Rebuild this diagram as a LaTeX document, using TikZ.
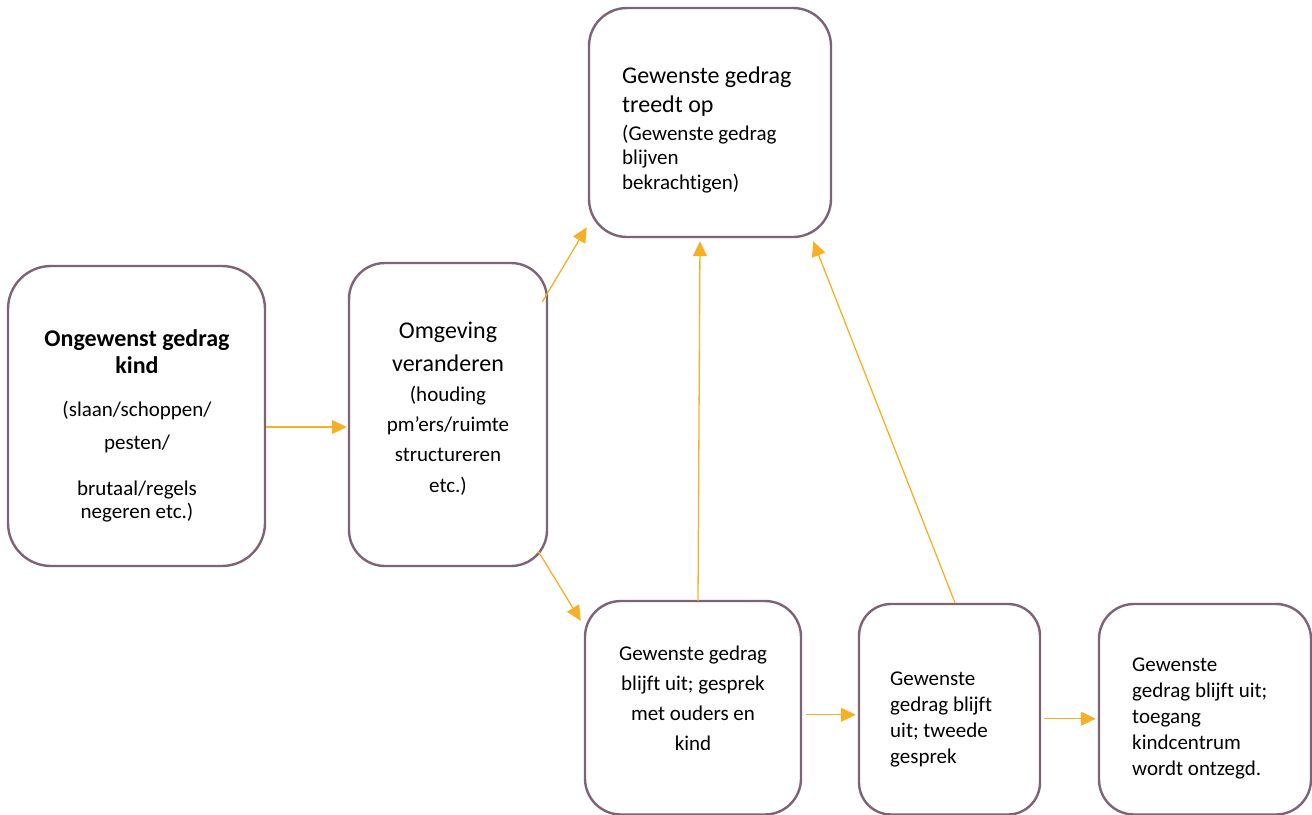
\documentclass[tikz,border=0pt]{standalone}
\usepackage{fontspec}
\setmainfont{Carlito}[Ligatures={NoCommon}]
\usetikzlibrary{arrows.meta,calc}
\definecolor{boxline}{HTML}{7E6276}
\definecolor{arrowc}{HTML}{F5B027}
\tikzset{
  box/.style={draw=boxline, line width=2.4pt, rectangle, inner sep=0pt, fill=white},
  arr/.style={draw=arrowc, line width=1.3pt, -{Triangle[length=15pt,width=14pt]}},
  big/.style={font=\fontsize{24}{29}\selectfont, inner sep=0pt},
  small/.style={font=\fontsize{21}{30}\selectfont, inner sep=0pt},
}
\begin{document}
\begin{tikzpicture}[x=1pt,y=-1pt]
\useasboundingbox (0,0) rectangle (1312,814);
\clip (0,0) rectangle (1312,814);
% boxes
\node[box, rounded corners=43pt, minimum width=257pt, minimum height=300pt] (A) at (136.5,416) {};
\node[box, rounded corners=36pt, minimum width=198pt, minimum height=303pt] (B) at (448,414.5) {};
\node[box, rounded corners=38pt, minimum width=242pt, minimum height=229pt] (T) at (710,122.5) {};
\node[box, rounded corners=36pt, minimum width=216pt, minimum height=213.5pt] (C) at (693,707.75) {};
\node[box, rounded corners=32pt, minimum width=181pt, minimum height=210.5pt] (D) at (949.5,709.25) {};
\node[box, rounded corners=35pt, minimum width=212pt, minimum height=210.5pt] (E) at (1205,709.25) {};
% texts box A
\node[big, font=\fontsize{24}{27}\selectfont\bfseries, align=center, anchor=base] (At1) at (137,373) {Ongewenst gedrag\\kind};
\node[small, align=center, anchor=base] (At2) at (137,518) {(slaan/schoppen/\\[3pt]pesten/\\[16pt]brutaal/regels\\[-7pt]negeren etc.)};
% box B
\node[big, font=\fontsize{24}{33}\selectfont, align=center, anchor=base] (Bt1) at (448,371) {Omgeving\\veranderen};
\node[small, font=\fontsize{21}{30.3}\selectfont, align=center, anchor=base] (Bt2) at (448,492) {(houding\\pm’ers/ruimte\\structureren\\etc.)};
% top box
\node[big, align=left, anchor=base west] (Tt1) at (622,112) {Gewenste gedrag\\treedt op};
\node[small, font=\fontsize{21}{24.5}\selectfont, align=left, anchor=base west] (Tt2) at (622,189) {(Gewenste gedrag\\blijven\\bekrachtigen)};
% box C
\node[small, font=\fontsize{21}{29.7}\selectfont, align=center, anchor=base] (Ct) at (693,750) {Gewenste gedrag\\blijft uit; gesprek\\met ouders en\\kind};
% box D
\node[small, font=\fontsize{21}{25.7}\selectfont, align=left, anchor=base west] (Dt) at (890,763) {Gewenste\\gedrag blijft\\uit; tweede\\gesprek};
% box E
\node[small, font=\fontsize{21}{25.8}\selectfont, align=left, anchor=base west] (Et) at (1132,775) {Gewenste\\gedrag blijft uit;\\toegang\\kindcentrum\\wordt ontzegd.};
% arrows
\draw[arr] ($(A.east)+(0,11)$) -- ($(B.west)+(-1,12.5)$);
\draw[arr] ($(B.east)+(-6,-112.5)$) -- ($(T.south west)+(-1,-11)$);
\draw[arr] ($(B.south east)+(-10,-16)$) -- ($(C.north west)+(-3,21)$);
\draw[arr] ($(C.north)+(5,1)$) -- ($(T.south)+(-10,3)$);
\draw[arr] ($(D.north)+(5.5,0)$) -- ($(T.south east)+(-19,3)$);
\draw[arr] ($(C.east)+(4,7)$) -- ($(D.west)+(-2,5.5)$);
\draw[arr] ($(D.east)+(3,9.5)$) -- ($(E.west)+(-2,9.5)$);
\end{tikzpicture}
\end{document}
